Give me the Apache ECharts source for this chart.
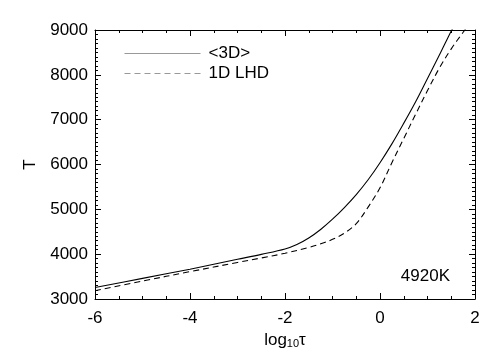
<!DOCTYPE html>
<html>
<head>
<meta charset="utf-8">
<script src="https://cdn.jsdelivr.net/npm/echarts@6/dist/echarts.min.js"></script>
<style>html,body{margin:0;padding:0;background:#fff;}#c{width:504px;height:360px;}</style>
</head>
<body>
<div id="c"></div>
<script>
var logTau3D = [-6.0, -5.0, -4.0, -3.0, -2.5, -2.0, -1.75, -1.5, -1.25, -1.0, -0.75, -0.5, -0.25, 0.0, 0.25, 0.5, 0.75, 1.0, 1.25, 1.5, 1.55];
var temp3D   = [3255, 3460, 3665, 3885, 3995, 4115, 4215, 4360, 4550, 4780, 5040, 5330, 5660, 6040, 6460, 6920, 7400, 7920, 8440, 8980, 9060];
var logTau1D = [-6.0, -5.0, -4.0, -3.0, -2.5, -2.0, -1.5, -1.25, -1.0, -0.75, -0.5, -0.25, 0.0, 0.25, 0.5, 0.75, 1.0, 1.25, 1.5, 1.75, 1.8];
var temp1D   = [3185, 3400, 3610, 3815, 3915, 4020, 4150, 4230, 4330, 4470, 4680, 5050, 5480, 6040, 6580, 7120, 7650, 8150, 8580, 8950, 9020];
var seriesNames = ['<3D>', '1D LHD'];
var xTicks = [-6, -4, -2, 0, 2];
var yTicks = [3000, 4000, 5000, 6000, 7000, 8000, 9000];
var annotation = '4920K';

function pairs(xs, ys) { return xs.map(function (x, i) { return [x, ys[i]]; }); }

var font = '"Liberation Sans", Arial, Helvetica, sans-serif';
var fs = 17;
var chart = echarts.init(document.getElementById('c'), null, {renderer: 'canvas'});
var axisLine = {show: true, onZero: false, lineStyle: {color: '#000', width: 1}};
var tick = {show: true, inside: true, length: 6, lineStyle: {color: '#000'}};
chart.setOption({
  animation: false,
  backgroundColor: '#fff',
  grid: {left: 95, right: 29, top: 30, bottom: 61, containLabel: false},
  title: {text: annotation, right: 49, top: 263,
    textStyle: {fontFamily: font, fontSize: fs, fontWeight: 'normal', color: '#000'}},
  legend: {
    orient: 'vertical', left: 119, top: 40, itemWidth: 76, itemHeight: 14, itemGap: 3,
    data: seriesNames,
    itemStyle: {opacity: 0},
    lineStyle: {color: '#999', width: 1},
    textStyle: {fontFamily: font, fontSize: fs, color: '#000', padding: [0, 0, 0, 3]}
  },
  xAxis: [{
    type: 'value', min: xTicks[0], max: xTicks[xTicks.length - 1], interval: 2, position: 'bottom',
    name: '{a|log}{b|10}{a|τ}', nameLocation: 'middle', nameGap: 30,
    nameTextStyle: {rich: {a: {fontFamily: font, fontSize: fs, color: '#000'},
                           b: {fontFamily: font, fontSize: 11, color: '#000', padding: [8, 0, 0, 0]}}},
    axisLine: axisLine, axisTick: tick,
    minorTick: {show: true, splitNumber: 4, length: 3, lineStyle: {color: '#000'}},
    splitLine: {show: false},
    axisLabel: {fontFamily: font, fontSize: fs, color: '#000', margin: 11}
  }, {
    type: 'value', min: xTicks[0], max: xTicks[xTicks.length - 1], interval: 2, position: 'top',
    axisLine: axisLine, axisTick: tick,
    minorTick: {show: true, splitNumber: 4, length: 3, lineStyle: {color: '#000'}},
    splitLine: {show: false}, axisLabel: {show: false}
  }],
  yAxis: [{
    type: 'value', min: yTicks[0], max: yTicks[yTicks.length - 1], interval: 1000, position: 'left',
    name: 'T', nameLocation: 'middle', nameGap: 56, nameRotate: 90,
    nameTextStyle: {fontFamily: font, fontSize: fs, color: '#000'},
    axisLine: axisLine, axisTick: tick,
    minorTick: {show: true, splitNumber: 10, length: 3, lineStyle: {color: '#000'}},
    splitLine: {show: false},
    axisLabel: {fontFamily: font, fontSize: fs, color: '#000', margin: 7,
                formatter: function (v) { return String(v); }}
  }, {
    type: 'value', min: yTicks[0], max: yTicks[yTicks.length - 1], interval: 1000, position: 'right',
    axisLine: axisLine, axisTick: tick,
    minorTick: {show: true, splitNumber: 10, length: 3, lineStyle: {color: '#000'}},
    splitLine: {show: false}, axisLabel: {show: false}
  }],
  series: [{
    name: seriesNames[0], type: 'line', data: pairs(logTau3D, temp3D),
    showSymbol: false, symbol: 'none', smooth: 0.35, clip: true,
    lineStyle: {color: '#000', width: 1.1, type: 'solid'}, itemStyle: {color: '#000'}
  }, {
    name: seriesNames[1], type: 'line', data: pairs(logTau1D, temp1D),
    showSymbol: false, symbol: 'none', smooth: 0.35, clip: true,
    lineStyle: {color: '#000', width: 1.1, type: [6, 4]}, itemStyle: {color: '#000'}
  }]
});
</script>
</body>
</html>
